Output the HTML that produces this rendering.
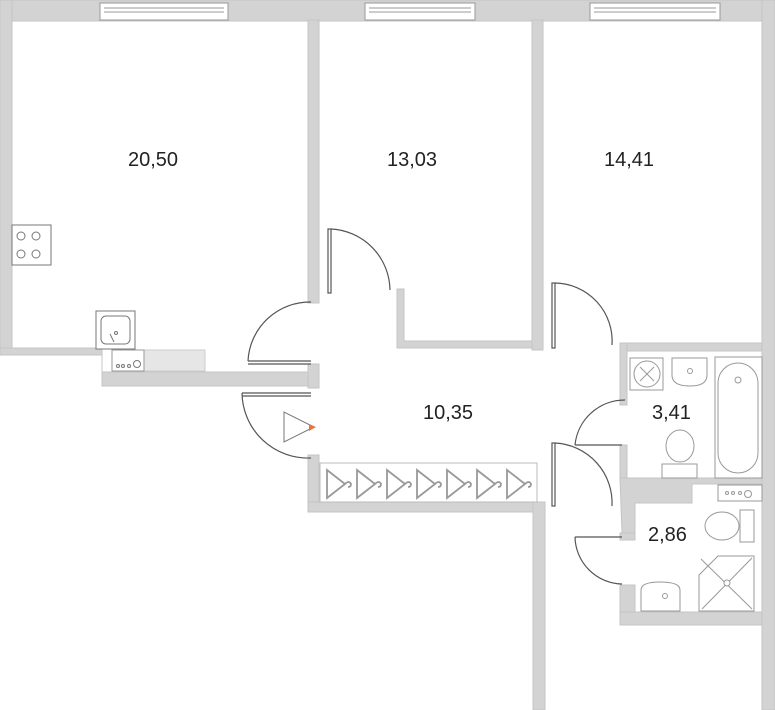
<!DOCTYPE html>
<html><head><style>
body{margin:0;background:#fff;}
svg{display:block;}
text{font-family:"Liberation Sans",sans-serif;fill:#222;}
</style></head><body>
<svg width="775" height="710" viewBox="0 0 775 710" xmlns="http://www.w3.org/2000/svg">
<g fill="#d3d3d3" stroke="#c4c4c4" stroke-width="1">
<!-- top wall -->
<rect x="0" y="0" width="775" height="21"/>
<!-- left wall -->
<rect x="0" y="0" width="12" height="355"/>
<!-- kitchen bottom -->
<path d="M0 348 H102 V372 H318 V386 H102 V355 H0 Z"/>
<!-- wall kitchen/13.03 -->
<rect x="308" y="20" width="11" height="283"/>
<rect x="308" y="364" width="11" height="24"/>
<!-- 13.03 inner -->
<path d="M397 289 H404 V341 H532 V348 H397 Z"/>
<rect x="532" y="20" width="11" height="330"/>
<!-- right outer -->
<rect x="762" y="0" width="13" height="710"/>
<!-- 14.41 bottom -->
<rect x="620" y="343" width="142" height="8"/>
<rect x="620" y="343" width="7" height="62"/>
<rect x="620" y="445" width="7" height="36"/>
<!-- between baths -->
<path d="M620 478 H762 V484 H692 V503 H635 V533 H622 Z"/>
<rect x="620" y="533" width="15" height="7"/>
<rect x="620" y="585" width="15" height="40"/>
<rect x="620" y="612" width="142" height="13"/>
<!-- hallway bottom -->
<rect x="308" y="455" width="11" height="57"/>
<rect x="308" y="502" width="237" height="10"/>
<rect x="533" y="502" width="12" height="208"/>
</g>
<!-- windows -->
<g fill="#fff" stroke="#999" stroke-width="1">
<rect x="100" y="3" width="128" height="17"/><line x1="104" y1="8" x2="224" y2="8"/><line x1="104" y1="12" x2="224" y2="12"/>
<rect x="365" y="3" width="110" height="17"/><line x1="369" y1="8" x2="471" y2="8"/><line x1="369" y1="12" x2="471" y2="12"/>
<rect x="590" y="3" width="130" height="17"/><line x1="594" y1="8" x2="716" y2="8"/><line x1="594" y1="12" x2="716" y2="12"/>
</g>
<!-- counter -->
<rect x="112" y="350" width="93" height="21" fill="#e6e6e6" stroke="#ccc"/>
<rect x="112" y="350" width="32" height="21" fill="#fff" stroke="#999"/>
<g fill="none" stroke="#777" stroke-width="1">
<circle cx="118" cy="366" r="1.5"/><circle cx="123" cy="366" r="1.5"/><circle cx="129" cy="366" r="1.5"/><circle cx="137" cy="364" r="3.5"/>
<rect x="96" y="311" width="39" height="38" fill="#fff"/><rect x="101" y="316" width="29" height="28" rx="5"/>
<line x1="110" y1="334" x2="114" y2="342"/><circle cx="116" cy="333" r="1.5"/>
<rect x="12" y="225" width="39" height="40" fill="#fff"/>
<circle cx="21" cy="236" r="4"/><circle cx="36" cy="236" r="4"/><circle cx="21" cy="254" r="4"/><circle cx="36" cy="254" r="4"/>
</g>
<!-- doors -->
<g fill="none" stroke="#555" stroke-width="1.2">
<rect x="328" y="229" width="3" height="64" fill="#fff"/><path d="M331 229 A62 62 0 0 1 390 290"/>
<line x1="248" y1="361" x2="311" y2="361"/><line x1="248" y1="364" x2="311" y2="364"/><path d="M248 361 A62 62 0 0 1 311 302"/>
<line x1="242" y1="393" x2="311" y2="393"/><line x1="242" y1="396" x2="311" y2="396"/><path d="M242 393 A66 66 0 0 0 311 458"/>
<rect x="552" y="283" width="3" height="65" fill="#fff"/><path d="M555 283 A58 58 0 0 1 612 345"/>
<line x1="575" y1="445" x2="622" y2="445"/><path d="M575 445 A50 50 0 0 1 625 400"/>
<rect x="552" y="443" width="3" height="63" fill="#fff"/><path d="M555 443 A60 60 0 0 1 612 506"/>
<line x1="575" y1="537" x2="622" y2="537"/><path d="M575 537 A48 48 0 0 0 622 584"/>
</g>
<!-- wardrobe -->
<rect x="320" y="463" width="217" height="39" fill="#fff" stroke="#bbb"/>
<g fill="none" stroke="#999" stroke-width="1.8">
<path d="M327 470 V498 L345 484 Z M345 484 q4 -4 6 0 q0 3 -3 3"/>
<path d="M357 470 V498 L375 484 Z M375 484 q4 -4 6 0 q0 3 -3 3"/>
<path d="M387 470 V498 L405 484 Z M405 484 q4 -4 6 0 q0 3 -3 3"/>
<path d="M417 470 V498 L435 484 Z M435 484 q4 -4 6 0 q0 3 -3 3"/>
<path d="M447 470 V498 L465 484 Z M465 484 q4 -4 6 0 q0 3 -3 3"/>
<path d="M477 470 V498 L495 484 Z M495 484 q4 -4 6 0 q0 3 -3 3"/>
<path d="M507 470 V498 L525 484 Z M525 484 q4 -4 6 0 q0 3 -3 3"/>
</g>
<path d="M284 412 V442 L314 427 Z" fill="#fff" stroke="#777"/>
<path d="M309 424 L316 427 L309 431 Z" fill="#e8743b"/>
<!-- bathroom fixtures -->
<g fill="#fff" stroke="#999" stroke-width="1">
<rect x="630" y="358" width="33" height="32"/><circle cx="647" cy="374" r="13"/>
<line x1="640" y1="367" x2="654" y2="381"/><line x1="654" y1="367" x2="640" y2="381"/>
<path d="M672 358 H707 V375 Q707 386 690 386 Q672 386 672 375 Z"/><circle cx="690" cy="371" r="2.5"/>
<rect x="715" y="357" width="47" height="121"/><rect x="718" y="363" width="40" height="110" rx="20"/><circle cx="738" cy="380" r="3"/>
<ellipse cx="680" cy="446" rx="14" ry="16"/><rect x="662" y="464" width="35" height="14"/>
<rect x="718" y="485" width="44" height="16"/><circle cx="727" cy="493" r="1.5"/><circle cx="733" cy="493" r="1.5"/><circle cx="740" cy="493" r="1.5"/><circle cx="748" cy="494" r="3.5"/>
<ellipse cx="722" cy="526" rx="17" ry="14"/><rect x="740" y="510" width="14" height="32"/>
<path d="M641 605 V590 Q641 582 660 582 Q680 582 680 590 V611 H641 Z"/><circle cx="665" cy="596" r="2.5"/>
<path d="M699 611 V575 L718 556 H754 V611 Z"/><line x1="702" y1="609" x2="752" y2="558"/><line x1="701" y1="559" x2="752" y2="609"/><circle cx="727" cy="583" r="3"/>
</g>
<g font-size="20">
<text x="128" y="166">20,50</text>
<text x="387" y="166">13,03</text>
<text x="604" y="166">14,41</text>
<text x="423" y="419">10,35</text>
<text x="652" y="419">3,41</text>
<text x="648" y="541">2,86</text>
</g>
</svg>
</body></html>
